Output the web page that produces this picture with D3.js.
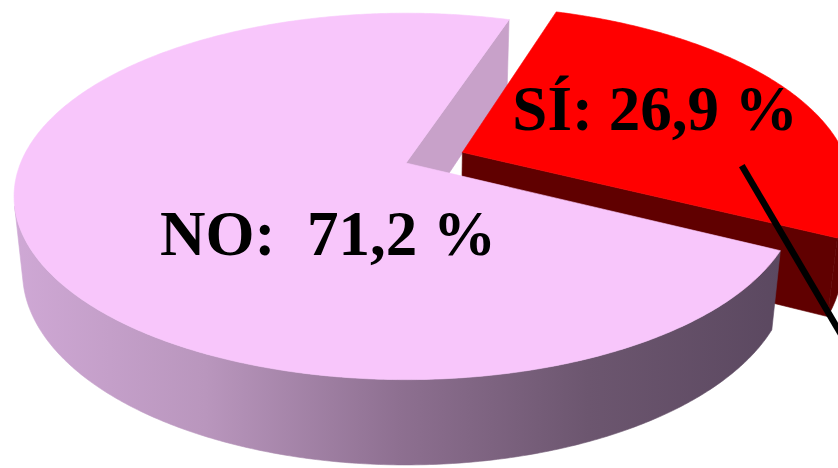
<!DOCTYPE html>
<html>
<head>
<meta charset="utf-8">
<script src="https://cdn.jsdelivr.net/npm/d3@7"></script>
<style>
  body { margin: 0; background: #fff; }
  svg { display: block; }
</style>
</head>
<body>
<script>
// data (percent)
var categories = ["NO", "SÍ"]
var values = [71.2, 26.9]
var labels = ["NO:  71,2 %", "SÍ: 26,9 %"]

var width = 838, height = 468
var topColors = ["#f8c6fb", "#ff0000"]
var cutColors = ["#c8a1c9", "#600000"]
var explode = [0, 0.16]

// 3d view of the pie
var cx = 406, cy = 163, F = 1858, Fx = 1.008, D = 4.86, H = 0.225
var alpha = 27.6 * Math.PI / 180
var ca = Math.cos(alpha), sa = Math.sin(alpha)

function project(u, v, h) {
  var z = D - v * ca - h * sa
  return [cx + Fx * F * u / z, cy + F * (v * sa - h * ca) / z]
}

var startAngle = 117 * Math.PI / 180
var pie = d3.pie().sort(null)
  .startAngle(startAngle)
  .endAngle(startAngle + 2 * Math.PI)
var arcs = pie(values)

var svg = d3.select("body").append("svg")
  .attr("width", width)
  .attr("height", height)

var defs = svg.append("defs")
var grad = defs.append("linearGradient")
  .attr("id", "sideNO")
  .attr("gradientUnits", "userSpaceOnUse")
  .attr("x1", 14).attr("x2", 780).attr("y1", 0).attr("y2", 0)
grad.selectAll("stop")
  .data([[0, "#cfa8d5"], [0.25, "#b996bd"], [0.5, "#8e7091"], [0.75, "#6c566f"], [1, "#5b4860"]])
  .enter().append("stop")
  .attr("offset", function (d) { return d[0] })
  .attr("stop-color", function (d) { return d[1] })
var sideFills = ["url(#sideNO)", "#600000"]

function area(pts) {
  var s = 0
  for (var i = 0; i < pts.length; i++) {
    var a = pts[i], b = pts[(i + 1) % pts.length]
    s += a[0] * b[1] - b[0] * a[1]
  }
  return s / 2
}

var line = d3.line()

var cutFaces = [], walls = [], tops = []
arcs.forEach(function (d, i) {
  var mid = (d.startAngle + d.endAngle) / 2
  var ou = explode[i] * Math.sin(mid), ov = -explode[i] * Math.cos(mid)
  function pt(a, r, h) {
    return project(ou + r * Math.sin(a), ov - r * Math.cos(a), h)
  }
  var n = Math.max(8, Math.ceil((d.endAngle - d.startAngle) / 0.01))
  var angles = d3.range(n + 1).map(function (k) {
    return d.startAngle + (d.endAngle - d.startAngle) * k / n
  })
  // top face
  var top = [pt(0, 0, 0)].concat(angles.map(function (a) { return pt(a, 1, 0) }))
  tops.push({ pts: top, fill: topColors[i] })

  // radial cut faces
  var s0 = [pt(d.startAngle, 0, 0), pt(d.startAngle, 1, 0), pt(d.startAngle, 1, -H), pt(d.startAngle, 0, -H)]
  var s1 = [pt(d.endAngle, 0, -H), pt(d.endAngle, 1, -H), pt(d.endAngle, 1, 0), pt(d.endAngle, 0, 0)]
  ;[s0, s1].forEach(function (q) {
    if (area(q) < 0) cutFaces.push({ pts: q, fill: cutColors[i] })
  })

  // outer wall, only the parts facing the viewer
  var run = []
  function flush() {
    if (run.length > 1) {
      var tp = run.map(function (a) { return pt(a, 1, 0) })
      var bt = run.map(function (a) { return pt(a, 1, -H) }).reverse()
      walls.push({ pts: tp.concat(bt), fill: sideFills[i] })
    }
    run = []
  }
  for (var k = 0; k < n; k++) {
    var a0 = angles[k], a1 = angles[k + 1]
    var q = [pt(a0, 1, 0), pt(a1, 1, 0), pt(a1, 1, -H), pt(a0, 1, -H)]
    if (area(q) < 0) {
      if (run.length === 0) run.push(a0)
      run.push(a1)
    } else flush()
  }
  flush()
  d.pt = pt
})

function drawFaces(list, cls) {
  svg.append("g").attr("class", cls)
    .selectAll("path")
    .data(list)
    .enter().append("path")
    .attr("d", function (f) { return line(f.pts) + "Z" })
    .attr("fill", function (f) { return f.fill })
    .attr("stroke", function (f) { return f.fill })
    .attr("stroke-width", 0.6)
}
drawFaces(cutFaces, "cuts")
drawFaces(walls, "walls")
drawFaces(tops, "tops")

// leader line of the SÍ label
var toRad = Math.PI / 180
var p0 = arcs[1].pt(96 * toRad, 0.725, 0)
var p1 = project(1.6 * Math.sin(141 * toRad), -1.6 * Math.cos(141 * toRad), 0)
svg.append("line")
  .attr("x1", p0[0]).attr("y1", p0[1])
  .attr("x2", p1[0]).attr("y2", p1[1])
  .attr("stroke", "#000")
  .attr("stroke-width", 6.5)

// labels
var labelPos = [[328, 255], [655, 130]]
svg.append("g")
  .selectAll("text")
  .data(labels)
  .enter().append("text")
  .attr("x", function (d, i) { return labelPos[i][0] })
  .attr("y", function (d, i) { return labelPos[i][1] })
  .attr("text-anchor", "middle")
  .style("white-space", "pre")
  .style("font-family", "'Liberation Serif', 'DejaVu Serif', serif")
  .style("font-weight", "bold")
  .style("font-size", "63px")
  .attr("fill", "#000")
  .text(function (d) { return d })
</script>
</body>
</html>
